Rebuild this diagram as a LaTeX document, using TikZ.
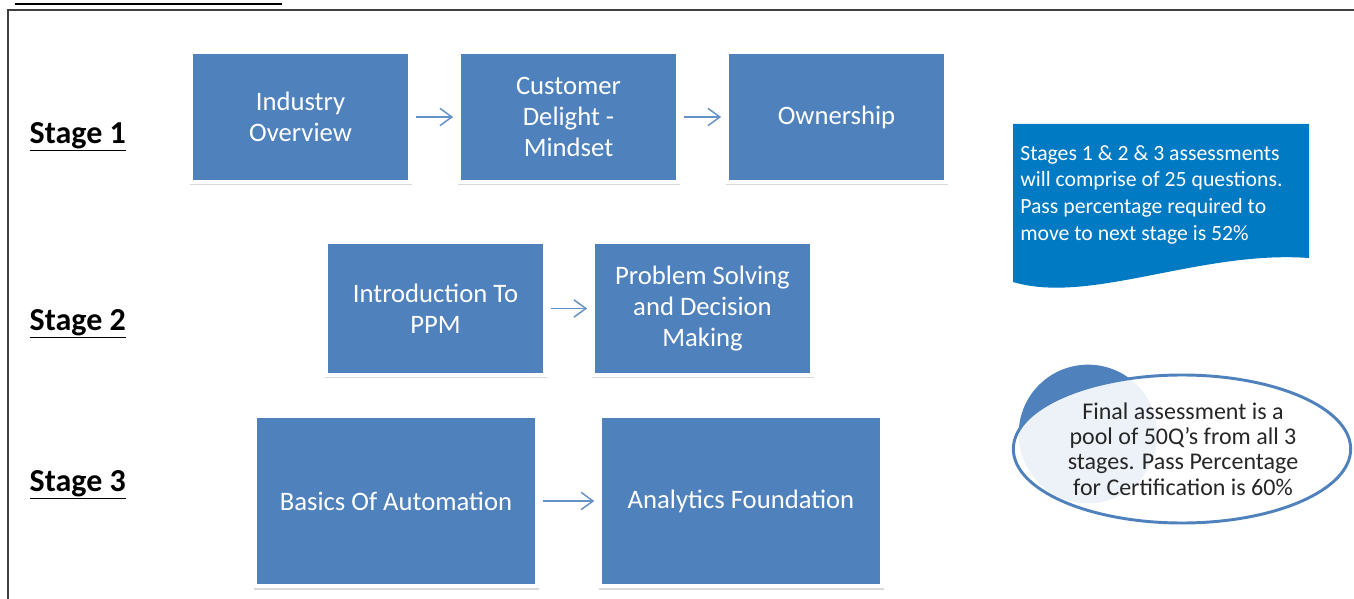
\documentclass[tikz,border=0pt]{standalone}
\usepackage{fontspec}
\setmainfont{Carlito}
\usepackage{xcolor}
\usetikzlibrary{shapes, positioning, arrows.meta, shadows}

\definecolor{boxblue}{RGB}{79,129,189}
\definecolor{noteblue}{RGB}{0,122,194}
\definecolor{arrowblue}{RGB}{100,145,200}

\tikzset{
    topic/.style={rectangle, fill=boxblue, draw=white, line width=3pt, text=white,
        align=center, font=\fontsize{20}{23}\selectfont,
        drop shadow={shadow xshift=0.5pt, shadow yshift=-1.5pt, shadow scale=1.015, opacity=.3}},
    stagelabel/.style={anchor=west, font=\fontsize{24}{27}\selectfont\bfseries},
    flow/.style={draw=arrowblue, line width=1.1pt, shorten >=3pt, shorten <=3pt,
        -{Straight Barb[length=9pt, width=13pt]}}
}

\begin{document}
\begin{tikzpicture}[x=0.75pt, y=-0.75pt]
        \useasboundingbox (0, 0) rectangle (1354, 599);

        % frame
        \draw[line width=1.5pt, black!75] (1354, 10) -- (7.5, 10) -- (7.5, 599);
        \draw[line width=1.5pt] (15, 4) -- (282, 4);

        % stage labels
        \node[stagelabel] (s1) at (25, 137) {\underline{Stage 1}};
        \node[stagelabel] (s2) at (25, 324) {\underline{Stage 2}};
        \node[stagelabel] (s3) at (25, 485) {\underline{Stage 3}};

        % stage 1
        \node[topic, minimum width=164pt, minimum height=97pt] (ind) at (300.5, 117) {Industry\\Overview};
        \node[topic, minimum width=164pt, minimum height=97pt] (cust) at (568.5, 117) {Customer\\Delight -\\Mindset};
        \node[topic, minimum width=164pt, minimum height=97pt] (own) at (836.5, 117) {Ownership};

        % stage 2
        \node[topic, minimum width=164pt, minimum height=99pt] (ppm) at (435.5, 308.5) {Introduction To\\PPM};
        \node[topic, minimum width=164pt, minimum height=99pt] (prob) at (702.5, 308.5) {Problem Solving\\and Decision\\Making};

        % stage 3
        \node[topic, minimum width=211pt, minimum height=128pt] (auto) at (396, 501) {Basics Of Automation};
        \node[topic, minimum width=211pt, minimum height=128pt] (ana) at (741, 501) {Analytics Foundation};

        \draw[flow] (ind) to (cust);
        \draw[flow] (cust) to (own);
        \draw[flow] (ppm) to (prob);
        \draw[flow] (auto) to (ana);

        % note on stages
        \fill[noteblue] (1013, 124) -- (1309, 124) -- (1309, 258)
            .. controls (1200, 250) and (1090, 305) .. (1013, 282) -- cycle;
        \node[anchor=north west, inner sep=0pt, align=left, text=white,
            font=\fontsize{16.3}{20}\selectfont] (note) at (1020, 145)
            {Stages 1 \& 2 \& 3 assessments\\will comprise of 25 questions.\\Pass percentage required to\\move to next stage is 52\%};

        % final assessment
        \fill[boxblue] (1088, 434) circle (52pt);
        \draw[boxblue, line width=2.2pt, fill=white, fill opacity=.9] (1182, 449) ellipse (126.5pt and 55.5pt);
        \node[align=center, text=black!85, font=\fontsize{18}{19}\selectfont] (final) at (1183, 449)
            {Final assessment is a\\pool of 50Q’s from all 3\\stages. Pass Percentage\\for Certification is 60\%};
\end{tikzpicture}
\end{document}
